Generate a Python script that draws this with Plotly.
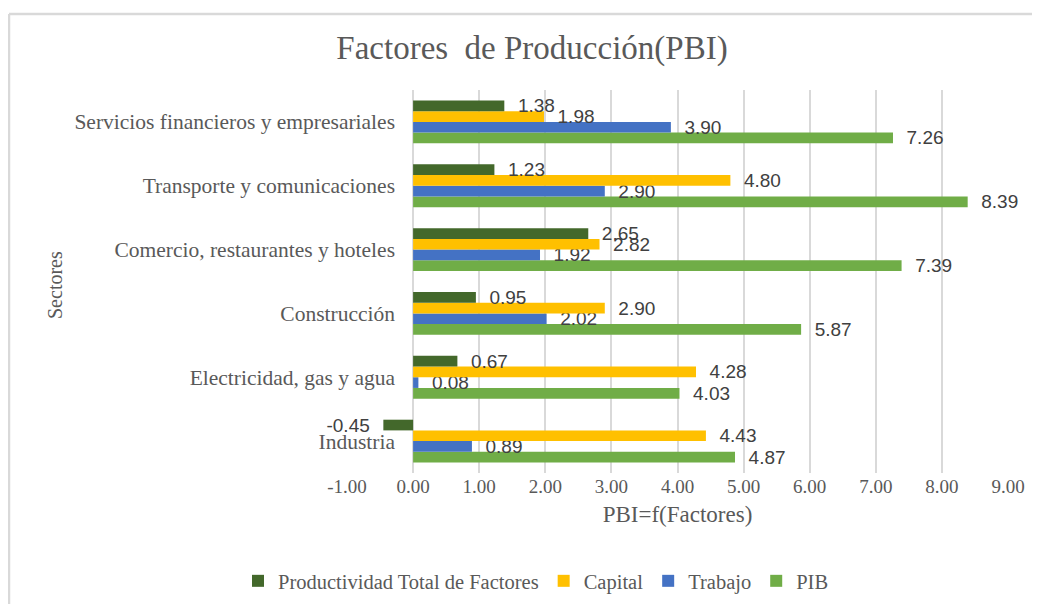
import plotly.graph_objects as go

categories = ["Industria", "Electricidad, gas y agua", "Construcción",
              "Comercio, restaurantes y hoteles", "Transporte y comunicaciones",
              "Servicios financieros y empresariales"]
ptf = [-0.45, 0.67, 0.95, 2.65, 1.23, 1.38]
capital = [4.43, 4.28, 2.90, 2.82, 4.80, 1.98]
trabajo = [0.89, 0.08, 2.02, 1.92, 2.90, 3.90]
pib = [4.87, 4.03, 5.87, 7.39, 8.39, 7.26]
tick_vals = [-1, 0, 1, 2, 3, 4, 5, 6, 7, 8, 9]
tick_text = ["-1.00", "0.00", "1.00", "2.00", "3.00", "4.00", "5.00", "6.00", "7.00", "8.00", "9.00"]

SERIF = "Liberation Serif"
GRAY = "#595959"
NB = "\u00a0"


def labels(vals):
    return [(NB * 2 + f"{v:.2f}") if v >= 0 else (f"{v:.2f}" + NB * 2) for v in vals]


fig = go.Figure()
series = [
    ("PIB", pib, "#70ad47"),
    ("Trabajo", trabajo, "#4472c4"),
    ("Capital", capital, "#ffc000"),
    ("Productividad Total de Factores", ptf, "#43682b"),
]
for name, vals, col in series:
    fig.add_trace(go.Bar(
        y=categories, x=vals, name=name, orientation="h",
        marker=dict(color=col, line=dict(width=0)),
        text=labels(vals), textposition="outside", cliponaxis=False,
        constraintext="none",
        textfont=dict(family="Liberation Sans", size=19, color="#404040"),
        hoverinfo="skip",
    ))

OFF = 8  # page body margin
W, H = 1040, 604
L = 347 - OFF
T = 90 - OFF
R = W - (1008 - OFF)
B = H - (473 - OFF)
pw, ph = W - L - R, H - T - B


def px_x(p):
    return (p - OFF - L) / pw


def px_y(p):
    return (H - B - (p - OFF)) / ph


fig.update_layout(
    width=W, height=H,
    margin=dict(l=L, r=R, t=T, b=B, autoexpand=False),
    paper_bgcolor="white", plot_bgcolor="white",
    barmode="group", bargap=0.33, bargroupgap=0,
    title=dict(text="Factores  de Producción(PBI)", x=(532 - OFF) / W, xanchor="center",
               y=1 - (47 - OFF) / H, yanchor="middle",
               font=dict(family=SERIF, size=33, color=GRAY)),
    xaxis=dict(range=[-1, 9], tickvals=tick_vals, ticktext=tick_text,
               showgrid=True, gridcolor="#d9d9d9", gridwidth=1.5,
               zeroline=False, showline=False, ticks="",
               tickfont=dict(family=SERIF, size=19, color=GRAY),
               title=dict(text="PBI=f(Factores)", standoff=9,
                          font=dict(family=SERIF, size=23, color=GRAY))),
    yaxis=dict(showgrid=False, zeroline=False, showline=False, ticks="",
               anchor="free", position=px_x(413),
               ticklabelstandoff=18,
               tickfont=dict(family=SERIF, size=21.5, color=GRAY)),
    legend=dict(orientation="h", x=px_x(536), xanchor="center",
                y=px_y(581), yanchor="middle", traceorder="reversed",
                font=dict(family=SERIF, size=20.5, color=GRAY),
                itemwidth=30),
    showlegend=True,
    annotations=[dict(text="Sectores", textangle=-90, x=px_x(55), y=px_y(285),
                      xref="paper", yref="paper", showarrow=False,
                      xanchor="center", yanchor="middle",
                      font=dict(family=SERIF, size=20, color=GRAY))],
    shapes=[
        dict(type="line", xref="paper", yref="paper", x0=px_x(9), x1=px_x(1050),
             y0=px_y(14), y1=px_y(14), line=dict(color="#d9d9d9", width=2.5)),
        dict(type="line", xref="paper", yref="paper", x0=px_x(9), x1=px_x(9),
             y0=px_y(14), y1=px_y(620), line=dict(color="#d9d9d9", width=2.5)),
    ],
)

fig.write_html("out.html")
